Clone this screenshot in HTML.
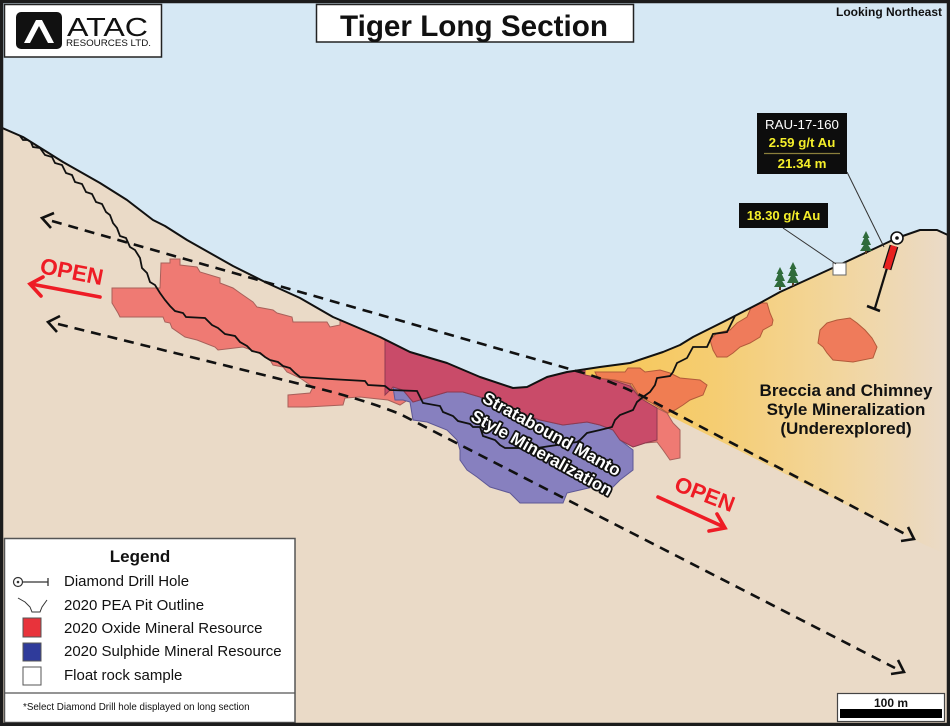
<!DOCTYPE html>
<html>
<head>
<meta charset="utf-8">
<style>
html,body{margin:0;padding:0;background:#fff;}
svg{display:block;}
text{font-family:"Liberation Sans",Arial,sans-serif;}
</style>
</head>
<body>
<svg width="950" height="726" viewBox="0 0 950 726" xmlns="http://www.w3.org/2000/svg">
<defs>
<linearGradient id="yg" x1="590" y1="0" x2="948" y2="0" gradientUnits="userSpaceOnUse">
<stop offset="0" stop-color="#f7c655"/>
<stop offset="0.35" stop-color="#f5cd72"/>
<stop offset="0.7" stop-color="#f2d69e"/>
<stop offset="1" stop-color="#eadac8"/>
</linearGradient>
</defs>

<!-- ground -->
<rect x="0" y="0" width="950" height="726" fill="#eadac7"/>

<!-- yellow breccia zone -->
<path d="M570,360 L950,200 L950,556 L925,545 L730,446 L670,416 L640,401 L600,386 L575,379 Z" fill="url(#yg)"/>

<!-- oxide main body -->
<path d="M161,263 L170,263 L170,259 L180,259 L180,265 L197,267 L200,272 L220,278 L220,283 L233,288 L240,293 L253,302 L257,307 L273,310 L277,313 L292,317 L293,322 L327,322 L330,327 L340,325 L340,300 L420,300 L420,392 L400,405 L388,400 L360,397 L345,398 L343,405 L307,407 L288,407 L288,395 L310,393 L313,387 L300,378 L287,372 L283,367 L273,365 L270,360 L257,352 L243,347 L218,350 L215,347 L197,340 L185,337 L172,328 L170,323 L165,322 L163,317 L120,317 L118,313 L115,308 L112,303 L112,288 L160,288 Z" fill="#ef7a73" stroke="#a8605a" stroke-width="1"/>

<!-- light red right blocks -->
<path d="M600,378 L615,380 L630,384 L640,398 L647,403 L657,408 L667,413 L673,423 L680,430 L680,458 L670,460 L663,450 L657,442 L645,443 L633,447 L620,440 L610,420 Z" fill="#ef7a73" stroke="#a8605a" stroke-width="1"/>

<!-- sulphide (purple) -->
<path d="M393,387 L403,390 L413,402 L447,392 L463,392 L480,397 L500,405 L520,413 L540,420 L563,425 L587,422 L600,425 L613,430 L620,440 L633,450 L633,470 L620,480 L613,487 L593,487 L580,490 L567,493 L563,503 L520,503 L510,493 L490,487 L477,477 L467,470 L460,460 L460,450 L457,440 L447,430 L427,422 L413,420 L410,402 L403,400 L395,400 Z" fill="#8780bf" stroke="#5e5896" stroke-width="1"/>

<!-- overlap (magenta) -->
<path d="M385,330 L585,330 L585,375 L600,378 L615,381 L630,386 L640,398 L657,408 L657,440 L645,443 L633,447 L620,440 L613,430 L600,425 L587,422 L563,425 L540,420 L520,413 L500,405 L480,397 L463,392 L447,392 L413,402 L403,390 L393,387 L385,395 Z" fill="#c94b69" stroke="#8e3a50" stroke-width="1"/>

<!-- orange blocks in yellow zone -->
<path d="M595,372 L610,372 L625,372 L628,368 L640,368 L645,372 L660,370 L670,373 L680,378 L700,380 L707,385 L703,395 L690,400 L683,405 L675,410 L668,413 L660,408 L650,402 L640,397 L632,384 L615,380 L598,378 Z" fill="#f07d52" stroke="#b25a3a" stroke-width="1"/>
<path d="M753,303 L767,303 L770,313 L773,320 L772,325 L763,330 L760,337 L750,343 L740,347 L733,353 L727,357 L717,357 L713,350 L710,340 L717,333 L730,330 L737,323 L747,317 L750,310 Z" fill="#ef7b5b" stroke="#b25a3a" stroke-width="1"/>
<path d="M837,320 L850,318 L857,323 L865,330 L872,338 L877,347 L873,358 L853,362 L833,360 L827,353 L823,347 L818,343 L820,330 L827,323 Z" fill="#ef7b5b" stroke="#b25a3a" stroke-width="1"/>

<!-- pit outline -->
<polyline fill="none" stroke="#111" stroke-width="1.8" stroke-linejoin="miter" points="20,136 23,140 30,140 33,147 40,148 45,155 52,157 55,163 62,165 66,173 72,175 75,182 82,184 86,192 92,194 96,202 102,204 106,212 110,215 113,223 117,228 120,236 126,238 130,247 135,250 140,258 142,268 147,273 150,282 155,285 160,293 165,300 170,306 175,311 183,313 186,317 205,318 212,325 218,328 225,334 235,336 240,342 247,346 252,351 260,353 265,357 270,360 278,362 283,366 290,368 295,373 300,377 330,379 365,381 368,385 385,386 390,390 417,391 423,403 440,406 443,412 453,416 458,421 470,424 473,427 480,427 483,436 495,440 500,445 505,448 537,448 577,442 580,440 587,433 600,430 612,427 615,420 620,415 633,410 637,402 643,397 650,392 655,385 657,378 670,376 673,372 677,363 687,358 693,347 707,347 713,334 727,332 735,316"/>

<!-- sky -->
<path d="M0,0 L950,0 L950,236 L946,235 L937,230 L920,230 L897,238 L880,246 L837,266 L780,292 L760,303 L727,320 L693,337 L680,345 L663,352 L630,363 L600,367 L567,372 L547,377 L527,387 L513,388 L480,377 L447,363 L410,352 L380,337 L333,317 L300,298 L267,283 L233,266 L187,240 L165,226 L153,220 L127,200 L100,183 L63,162 L23,137 L0,127 Z" fill="#d6e8f4"/>
<polyline fill="none" stroke="#111" stroke-width="2" stroke-linejoin="round" points="0,127 23,137 63,162 100,183 127,200 153,220 165,226 187,240 233,266 267,283 300,298 333,317 380,337 410,352 447,363 480,377 513,388 527,387 547,377 567,372 600,367 630,363 663,352 680,345 693,337 727,320 760,303 780,292 837,266 880,246 897,238 920,230 937,230 950,236"/>

<!-- trees -->
<g fill="#2f6b3b">
<g transform="translate(866,251)"><path d="M0,-20 L3.5,-13 L1.8,-13 L5,-6 L2.2,-6 L6,0 L-6,0 L-2.2,-6 L-5,-6 L-1.8,-13 L-3.5,-13 Z"/><rect x="-1" y="0" width="2" height="3" fill="#5a3e22"/></g>
<g transform="translate(780,287)"><path d="M0,-20 L3.5,-13 L1.8,-13 L5,-6 L2.2,-6 L6,0 L-6,0 L-2.2,-6 L-5,-6 L-1.8,-13 L-3.5,-13 Z"/><rect x="-1" y="0" width="2" height="3" fill="#5a3e22"/></g>
<g transform="translate(793,283)"><path d="M0,-21 L3.5,-14 L1.8,-14 L5,-7 L2.2,-7 L6,0 L-6,0 L-2.2,-7 L-5,-7 L-1.8,-14 L-3.5,-14 Z"/><rect x="-1" y="0" width="2" height="3" fill="#5a3e22"/></g>
</g>

<!-- dashed arrows -->
<g fill="none" stroke="#111" stroke-width="2.6">
<path d="M52,221 L580,372 Q615,382 650,400 L905,534" stroke-dasharray="10 7"/>
<path d="M58,324 L300,384 Q360,398 400,414 L895,668" stroke-dasharray="10 7"/>
<polyline points="54,213 42,218 51,228" stroke-linejoin="miter"/>
<polyline points="60,316 48,322 57,332"/>
<polyline points="908,527 914,539 901,541"/>
<polyline points="898,660 904,672 891,674"/>
</g>

<!-- OPEN arrows -->
<g stroke="#ee1c25" stroke-width="3.6" fill="none" stroke-linecap="round">
<line x1="100" y1="297" x2="31" y2="284"/>
<polyline points="43,277 30,284 41,296"/>
<line x1="658" y1="497" x2="724" y2="527"/>
<polyline points="717,514 725,528 709,531"/>
</g>
<text x="39" y="273" font-size="22.5" font-weight="bold" fill="#ee1c25" transform="rotate(11 39 273)">OPEN</text>
<text x="673" y="490" font-size="22" font-weight="bold" fill="#ee1c25" transform="rotate(21 673 490)">OPEN</text>

<!-- Stratabound text -->
<g font-size="17" font-weight="bold" fill="#fff" stroke="#111" stroke-width="3.5" stroke-linejoin="round" text-anchor="middle" style="paint-order:stroke">
<text x="549" y="439" transform="rotate(29 549 439)">Stratabound Manto</text>
<text x="539" y="458" transform="rotate(29 539 458)">Style Mineralization</text>
</g>

<!-- Breccia text -->
<g font-size="17" font-weight="bold" fill="#111" text-anchor="middle">
<text x="846" y="396">Breccia and Chimney</text>
<text x="846" y="415">Style Mineralization</text>
<text x="846" y="434">(Underexplored)</text>
</g>

<!-- drill hole -->
<line x1="887" y1="268" x2="875" y2="308" stroke="#111" stroke-width="2.2"/>
<line x1="867" y1="306" x2="880" y2="311" stroke="#111" stroke-width="2.6"/>
<line x1="894" y1="246" x2="887" y2="269" stroke="#111" stroke-width="9"/>
<line x1="894" y1="246" x2="887" y2="269" stroke="#e8211f" stroke-width="6.5"/>
<circle cx="897" cy="238" r="6" fill="#fff" stroke="#111" stroke-width="1.6"/>
<circle cx="897" cy="238" r="1.8" fill="#111"/>

<!-- float sample -->
<rect x="833" y="263" width="13" height="12" fill="#fff" stroke="#666" stroke-width="1"/>

<!-- leaders -->
<line x1="847" y1="172" x2="884" y2="247" stroke="#333" stroke-width="1"/>
<line x1="783" y1="228" x2="836" y2="264" stroke="#333" stroke-width="1"/>

<!-- RAU box -->
<rect x="757" y="113" width="90" height="61" fill="#0d0d0d"/>
<text x="802" y="129" font-size="13.3" fill="#fff" text-anchor="middle">RAU-17-160</text>
<text x="802" y="147" font-size="13.3" font-weight="bold" fill="#f5ef2a" text-anchor="middle">2.59 g/t Au</text>
<line x1="764" y1="153.5" x2="840" y2="153.5" stroke="#8b7f3c" stroke-width="1.2"/>
<text x="802" y="168" font-size="13.3" font-weight="bold" fill="#f5ef2a" text-anchor="middle">21.34 m</text>

<!-- 18.30 box -->
<rect x="739" y="203" width="89" height="25" fill="#0d0d0d"/>
<text x="783.5" y="220" font-size="13.2" font-weight="bold" fill="#f5ef2a" text-anchor="middle">18.30 g/t Au</text>

<!-- title -->
<rect x="316.5" y="4.5" width="317" height="37.5" fill="#fff" stroke="#222" stroke-width="1.5"/>
<text x="340" y="36" font-size="30" font-weight="bold" fill="#111" textLength="268" lengthAdjust="spacingAndGlyphs">Tiger Long Section</text>
<text x="942" y="16" font-size="12" font-weight="bold" fill="#111" text-anchor="end">Looking Northeast</text>

<!-- logo -->
<rect x="4.5" y="4.5" width="157" height="52.5" fill="#fff" stroke="#222" stroke-width="1.5"/>
<rect x="16" y="12" width="46" height="37" rx="5" fill="#111"/>
<path d="M24,43 L36,20 L42,20 L54,43 L48,43 L39,26 L30,43 Z" fill="#fff"/>
<text x="67" y="36" font-size="26" fill="#111" textLength="81" lengthAdjust="spacingAndGlyphs">ATAC</text>
<text x="66" y="46" font-size="9.5" fill="#111" textLength="85" lengthAdjust="spacingAndGlyphs">RESOURCES LTD.</text>

<!-- legend -->
<rect x="4.5" y="538.5" width="290.5" height="184" fill="#fff" stroke="#555" stroke-width="1.5"/>
<text x="140" y="562" font-size="17" font-weight="bold" fill="#111" text-anchor="middle">Legend</text>
<circle cx="18" cy="582" r="4.5" fill="#fff" stroke="#333" stroke-width="1.2"/>
<circle cx="18" cy="582" r="1.3" fill="#333"/>
<line x1="22.5" y1="582" x2="48" y2="582" stroke="#333" stroke-width="1.3"/>
<line x1="48" y1="578" x2="48" y2="586" stroke="#333" stroke-width="1.3"/>
<polyline points="18,598 25,602 30,607 32,612 40,612 42,607 47,600" fill="none" stroke="#333" stroke-width="1"/>
<rect x="23" y="618" width="18" height="19" fill="#e8333b" stroke="#555" stroke-width="1"/>
<rect x="23" y="643" width="18" height="18" fill="#2f3b9b" stroke="#555" stroke-width="1"/>
<rect x="23" y="667" width="18" height="18" fill="#fff" stroke="#555" stroke-width="1"/>
<g font-size="15" fill="#111">
<text x="64" y="586">Diamond Drill Hole</text>
<text x="64" y="610">2020 PEA Pit Outline</text>
<text x="64" y="633">2020 Oxide Mineral Resource</text>
<text x="64" y="656">2020 Sulphide Mineral Resource</text>
<text x="64" y="680">Float rock sample</text>
</g>
<line x1="4.5" y1="693" x2="295" y2="693" stroke="#555" stroke-width="1.2"/>
<text x="23" y="710" font-size="9.8" fill="#111">*Select Diamond Drill hole displayed on long section</text>

<!-- scale bar -->
<rect x="837.5" y="693.5" width="107" height="28" fill="#fff" stroke="#444" stroke-width="1.2"/>
<text x="891" y="707" font-size="12" font-weight="bold" fill="#111" text-anchor="middle">100 m</text>
<rect x="840" y="709" width="102" height="9" fill="#000"/>

<!-- frame -->
<rect x="1.5" y="1.5" width="947" height="723" fill="none" stroke="#1c1c1c" stroke-width="3.5"/>
</svg>
</body>
</html>
